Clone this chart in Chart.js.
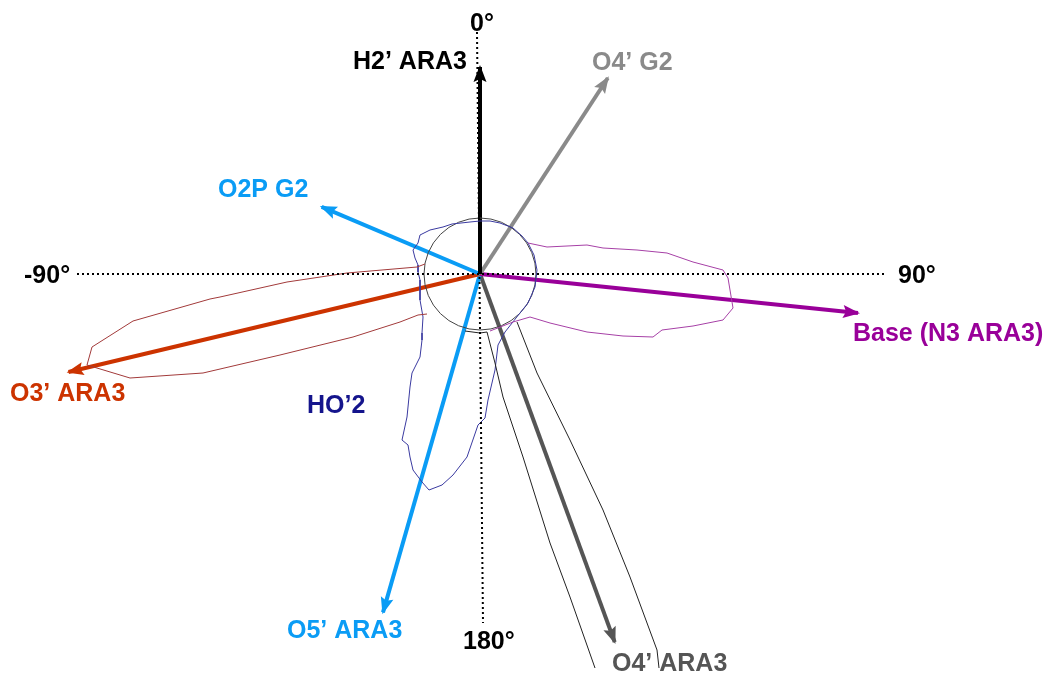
<!DOCTYPE html>
<html>
<head>
<meta charset="utf-8">
<script src="https://cdn.jsdelivr.net/npm/chart.js@4.4.1/dist/chart.umd.min.js"></script>
<style>
  html, body { margin: 0; padding: 0; background: #fff; }
  #wrap { width: 1051px; height: 675px; }
</style>
</head>
<body>
<div id="wrap"><canvas id="angleChart"></canvas></div>
<script>
// vectors: angle in degrees (0 = up, clockwise), length in chart units
const vectorNames = ['H2’ ARA3', 'O4’ G2', 'O2P G2', 'O3’ ARA3', 'Base (N3 ARA3)', 'O5’ ARA3', 'O4’ ARA3'];
const vectorAngles = [0, 33.1, -67.0, -103.4, 95.9, -164.0, 159.9];
const vectorLengths = [207, 234, 172, 423, 380, 352, 392];
const vectorColors = ['#000000', '#8a8a8a', '#0a9cf5', '#cc3300', '#990099', '#0a9cf5', '#555555'];

// reference axes
const axisH = [[-403, 0], [405, 0]];
const axisV = [[-3, 242], [3, -349]];

// envelopes
const o3Envelope = [[-55,10],[-63,7],[-133,1],[-193,-8],[-260,-23],[-270,-25],[-347,-47],[-388,-73],[-393,-91],
  [-350,-104],[-277,-99],[-200,-81],[-127,-63],[-80,-48],[-62,-41],[-53,-40]];
const baseEnvelope = [[48,31],[67,27],[107,29],[123,26],[157,24],[187,21],[213,12],[243,4],[248,-4],[250,-16],
  [253,-34],[243,-46],[213,-52],[182,-56],[173,-63],[143,-62],[107,-58],[70,-49],[50,-43],[33,-48],[10,-57]];
const hoEnvelope = [[5,-144],[8,-126],[15,-96],[18,-71],[25,-58],[36,-44],[48,-29],[55,-13],[57,4],[54,19],[48,31],
  [42,38],[33,46],[20,51],[10,53],[0,53],[-10,52],[-28,50],[-37,47],[-50,44],[-60,39],[-62,31],[-67,24],[-65,16],
  [-62,9],[-62,2],[-60,-6],[-60,-26],[-57,-43],[-58,-59],[-58,-66],[-60,-83],[-68,-99],[-70,-113],[-73,-143],
  [-78,-166],[-72,-171],[-70,-183],[-67,-196],[-58,-208],[-51,-216],[-38,-211],[-27,-201],[-13,-183],[-2,-151],[5,-144]];
const o4EnvelopeLeft = [[-15,-57],[0,-59],[7,-58],[15,-89],[23,-123],[43,-183],[70,-269],[90,-323],[115,-394]];
const o4EnvelopeRight = [[37,-48],[57,-99],[90,-166],[123,-236],[150,-303],[177,-376],[179,-394]];

// text labels
const labels = [
  { text: '0°', x: -10, y: 250, color: '#000000' },
  { text: 'H2’ ARA3', x: -127, y: 212, color: '#000000' },
  { text: 'O4’ G2', x: 112, y: 211, color: '#8a8a8a' },
  { text: 'O2P G2', x: -262, y: 84, color: '#0a9cf5' },
  { text: '-90°', x: -456, y: -2, color: '#000000' },
  { text: '90°', x: 418, y: -2, color: '#000000' },
  { text: 'Base (N3 ARA3)', x: 373, y: -60, color: '#990099' },
  { text: 'O3’ ARA3', x: -470, y: -120, color: '#cc3300' },
  { text: 'HO’2', x: -173, y: -132, color: '#14148c' },
  { text: 'O5’ ARA3', x: -193, y: -357, color: '#0a9cf5' },
  { text: '180°', x: -17, y: -368, color: '#000000' },
  { text: 'O4’ ARA3', x: 132, y: -390, color: '#555555' }
];

const pts = arr => arr.map(p => ({ x: p[0], y: p[1] }));

function lineSet(arr, color, width, dash) {
  return {
    data: pts(arr),
    showLine: true,
    borderColor: color,
    borderWidth: width,
    borderDash: dash || [],
    pointRadius: 0,
    tension: 0,
    fill: false,
    clip: false
  };
}

const datasets = [
  lineSet(axisH, '#000000', 2, [2, 3]),
  lineSet(axisV, '#000000', 2, [2, 3]),
  lineSet(o3Envelope, '#a23a3a', 1),
  lineSet(baseEnvelope, '#a640a6', 1),
  lineSet(o4EnvelopeLeft, '#222222', 1),
  lineSet(o4EnvelopeRight, '#222222', 1),
  lineSet(hoEnvelope, '#3a3aa0', 1),
  {
    data: [{ x: 0, y: 0 }],
    pointRadius: 56,
    pointBackgroundColor: 'rgba(0,0,0,0)',
    pointBorderColor: '#444444',
    pointBorderWidth: 1,
    clip: false
  }
];

vectorNames.forEach(function(name, i) {
  const a = vectorAngles[i] * Math.PI / 180;
  const tip = [vectorLengths[i] * Math.sin(a), vectorLengths[i] * Math.cos(a)];
  const ds = lineSet([[0, 0], tip], vectorColors[i], 4);
  ds.label = name;
  ds.arrow = true;
  datasets.push(ds);
});

const arrowHeads = {
  id: 'arrowHeads',
  afterDatasetsDraw(chart) {
    const ctx = chart.ctx;
    chart.data.datasets.forEach(function(ds, i) {
      if (!ds.arrow) return;
      const el = chart.getDatasetMeta(i).data;
      const p0 = el[el.length - 2], p1 = el[el.length - 1];
      const ang = Math.atan2(p1.y - p0.y, p1.x - p0.x);
      const len = 15, half = 6.5;
      ctx.save();
      ctx.translate(p1.x, p1.y);
      ctx.rotate(ang);
      ctx.beginPath();
      ctx.moveTo(2, 0);
      ctx.lineTo(-len, -half);
      ctx.lineTo(-len + 3, 0);
      ctx.lineTo(-len, half);
      ctx.closePath();
      ctx.fillStyle = ds.borderColor;
      ctx.fill();
      ctx.restore();
    });
  }
};

const textLabels = {
  id: 'textLabels',
  afterDraw(chart) {
    const ctx = chart.ctx;
    const xs = chart.scales.x, ys = chart.scales.y;
    ctx.save();
    ctx.font = 'bold 25px "Liberation Sans", Arial, sans-serif';
    ctx.textAlign = 'left';
    ctx.textBaseline = 'middle';
    labels.forEach(function(l) {
      ctx.fillStyle = l.color;
      ctx.fillText(l.text, xs.getPixelForValue(l.x), ys.getPixelForValue(l.y));
    });
    ctx.restore();
  }
};

new Chart(document.getElementById('angleChart').getContext('2d'), {
  type: 'scatter',
  data: { datasets: datasets },
  options: {
    responsive: true,
    maintainAspectRatio: false,
    animation: false,
    layout: { padding: 0, autoPadding: false },
    plugins: { legend: { display: false }, tooltip: { enabled: false } },
    scales: {
      x: { type: 'linear', min: -480, max: 571, display: false },
      y: { type: 'linear', min: -401, max: 274, display: false }
    }
  },
  plugins: [arrowHeads, textLabels]
});
</script>
</body>
</html>
